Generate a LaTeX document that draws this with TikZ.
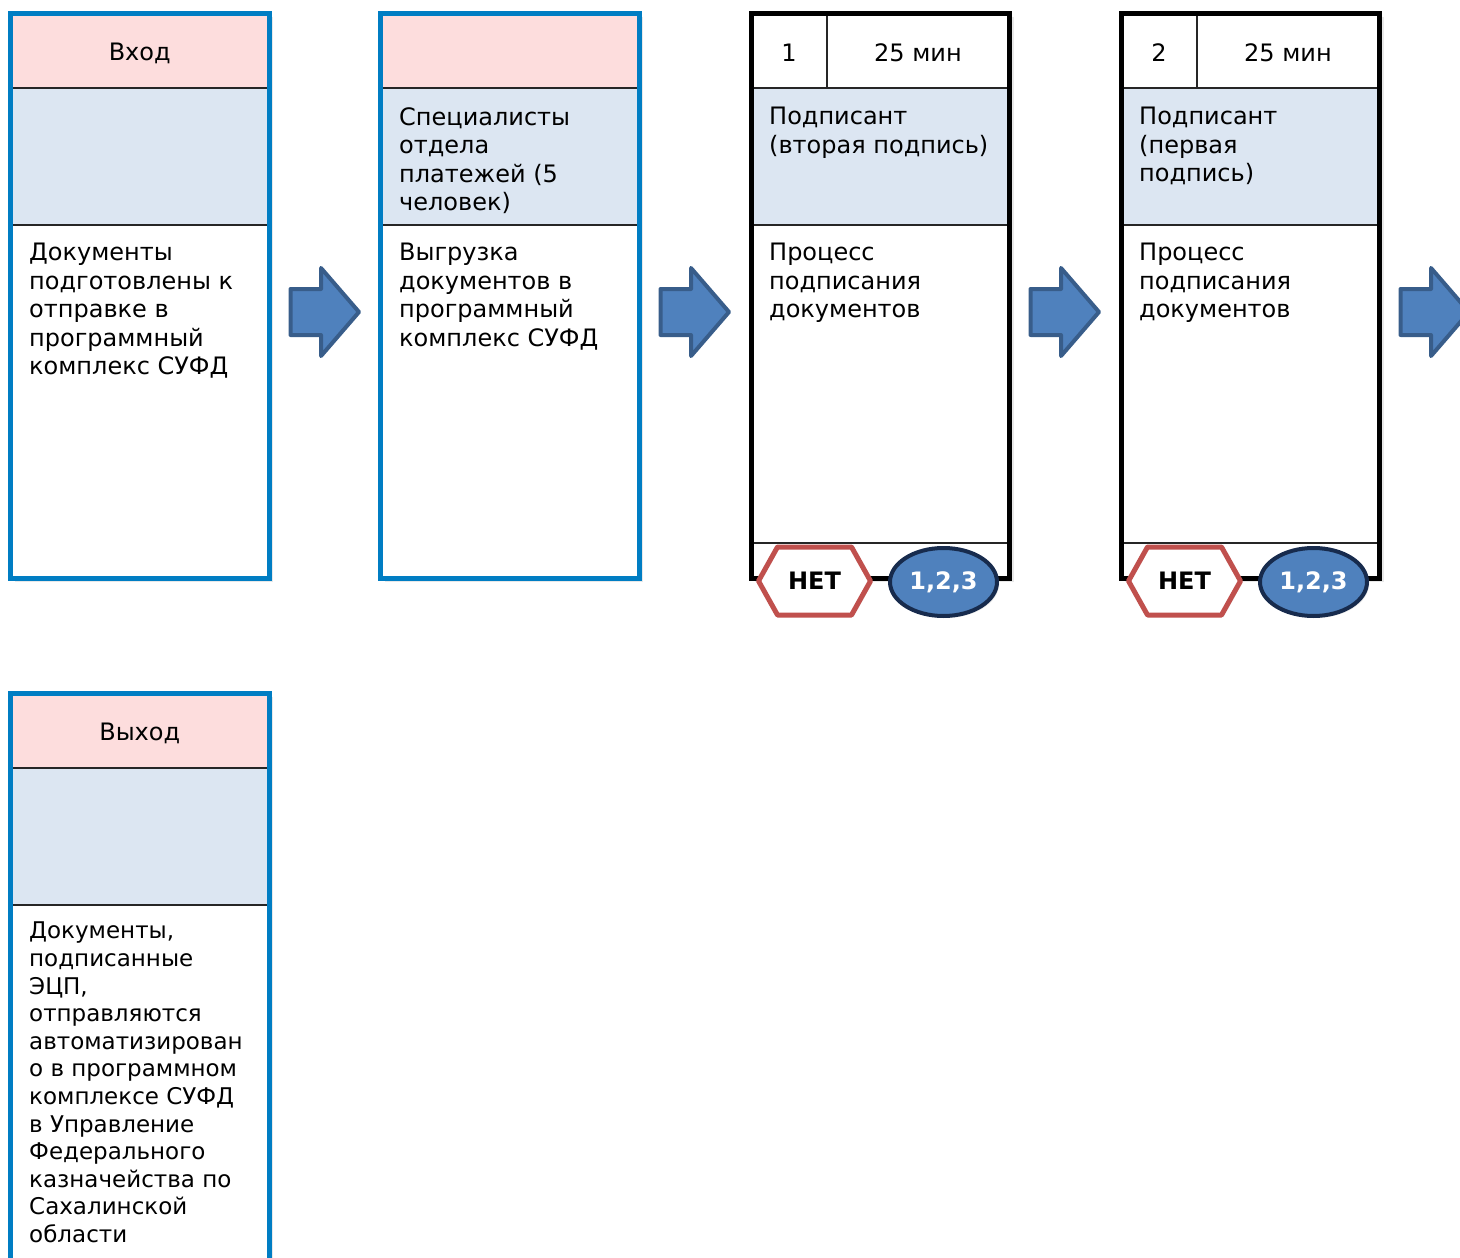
\documentclass[tikz,border=0pt]{standalone}
\usepackage{fontspec}
\setmainfont{DejaVu Sans}
\usetikzlibrary{shapes.geometric,shadows}

\definecolor{headpink}{RGB}{253,221,221}
\definecolor{roleblue}{RGB}{220,230,242}
\definecolor{frameblue}{RGB}{0,125,195}
\definecolor{arrowfill}{RGB}{79,129,189}
\definecolor{arrowline}{RGB}{56,93,138}
\definecolor{hexred}{RGB}{192,80,77}
\definecolor{ovalline}{RGB}{23,43,77}

\tikzset{
	frame/.style={rectangle, anchor=north west, minimum width=258.5pt, minimum height=565pt,
		line width=5pt, fill=white, inner sep=0pt, outer sep=0pt,
		drop shadow={opacity=.18, shadow xshift=4pt, shadow yshift=-4pt}},
	sepline/.style={line width=1.5pt, black!85},
	headtext/.style={inner sep=0pt, font=\fontsize{24}{28.5}\selectfont},
	celltext/.style={anchor=north west, align=left, inner sep=0pt, font=\fontsize{24}{28.5}\selectfont},
	flowarrow/.style={fill=arrowfill, draw=arrowline, line width=4pt, line join=round},
	nobox/.style={fill=white, draw=hexred, line width=5pt, line join=round,
		drop shadow={opacity=.2, shadow xshift=2pt, shadow yshift=-2pt}},
	stepoval/.style={ellipse, fill=arrowfill, draw=ovalline, line width=4pt, inner sep=0pt,
		minimum width=107pt, minimum height=68pt, text=white,
		font=\fontsize{24}{28}\selectfont\bfseries,
		drop shadow={opacity=.2, shadow xshift=2pt, shadow yshift=-2pt}}
}

\begin{document}
\begin{tikzpicture}[x=1pt,y=-1pt]
		\useasboundingbox (0,0) rectangle (1460,1258);
		
		% Вход
		\node[frame, draw=frameblue] (inbox) at (10.5,13) {};
		\fill[headpink] (13,15.5) rectangle (266.5,88);
		\fill[roleblue] (13,88) rectangle (266.5,225);
		\draw[sepline] (13,88) -- (266.5,88) (13,225) -- (266.5,225);
		\node[headtext] (intitle) at (139.75,53) {Вход};
		\node[celltext] (inwhat) at (29,243) {Документы\\подготовлены к\\отправке в\\программный\\комплекс СУФД};
		
		% выгрузка
		\node[frame, draw=frameblue] (loadbox) at (380.5,13) {};
		\fill[headpink] (383,15.5) rectangle (636.5,88);
		\fill[roleblue] (383,88) rectangle (636.5,225);
		\draw[sepline] (383,88) -- (636.5,88) (383,225) -- (636.5,225);
		\node[celltext] (loadwho) at (399,107) {Специалисты\\отдела\\платежей (5\\человек)};
		\node[celltext] (loadwhat) at (399,243) {Выгрузка\\документов в\\программный\\комплекс СУФД};
		
		% подпись 1
		\node[frame, draw=black] (signbox1) at (751,13) {};
		\fill[roleblue] (753.5,88) rectangle (1007,225);
		\draw[sepline] (753.5,88) -- (1007,88) (753.5,225) -- (1007,225)
		(753.5,543) -- (1007,543) (827,15.5) -- (827,88);
		\node[headtext] (signno1) at (789,53) {1};
		\node[headtext] (signtime1) at (918,53) {25 мин};
		\node[celltext] (signwho1) at (769,107) {Подписант\\(вторая подпись)};
		\node[celltext] (signwhat1) at (769,243) {Процесс\\подписания\\документов};
		\coordinate (no1) at (814.5,581);
		\draw[nobox, shift={(no1)}] (-56,0) -- (-37,-34) -- (37,-34) -- (56,0) -- (37,34) -- (-37,34) -- cycle;
		\node[headtext, font=\fontsize{24}{28}\selectfont\bfseries] (notext1) at (no1) {НЕТ};
		\node[stepoval] (oval1) at (943.5,582) {1,2,3};
		
		% подпись 2
		\node[frame, draw=black] (signbox2) at (1121,13) {};
		\fill[roleblue] (1123.5,88) rectangle (1377,225);
		\draw[sepline] (1123.5,88) -- (1377,88) (1123.5,225) -- (1377,225)
		(1123.5,543) -- (1377,543) (1197,15.5) -- (1197,88);
		\node[headtext] (signno2) at (1159,53) {2};
		\node[headtext] (signtime2) at (1288,53) {25 мин};
		\node[celltext] (signwho2) at (1139,107) {Подписант\\(первая\\подпись)};
		\node[celltext] (signwhat2) at (1139,243) {Процесс\\подписания\\документов};
		\coordinate (no2) at (1184.5,581);
		\draw[nobox, shift={(no2)}] (-56,0) -- (-37,-34) -- (37,-34) -- (56,0) -- (37,34) -- (-37,34) -- cycle;
		\node[headtext, font=\fontsize{24}{28}\selectfont\bfseries] (notext2) at (no2) {НЕТ};
		\node[stepoval] (oval2) at (1313.5,582) {1,2,3};
		
		% Выход
		\node[frame, draw=frameblue, minimum height=620pt] (outbox) at (10.5,693) {};
		\fill[headpink] (13,695.5) rectangle (266.5,768);
		\fill[roleblue] (13,768) rectangle (266.5,905);
		\draw[sepline] (13,768) -- (266.5,768) (13,905) -- (266.5,905);
		\node[headtext] (outtitle) at (139.75,733) {Выход};
		\node[celltext, font=\fontsize{23}{27.6}\selectfont] (outwhat) at (29,922)
		{Документы,\\подписанные\\ЭЦП,\\отправляются\\автоматизирован\\о в программном\\комплексе СУФД\\в Управление\\Федерального\\казначейства по\\Сахалинской\\области};
		
		% стрелки
		\coordinate (a1) at (325,312);
		\coordinate (a2) at (695,312);
		\coordinate (a3) at (1065,312);
		\coordinate (a4) at (1435,312);
		\foreach \a in {a1,a2,a3,a4}
		\draw[flowarrow, shift={(\a)}] (-34.5,-23) -- (-4,-23) -- (-4,-44) -- (34,0) -- (-4,44) -- (-4,23) -- (-34.5,23) -- cycle;
\end{tikzpicture}
\end{document}
